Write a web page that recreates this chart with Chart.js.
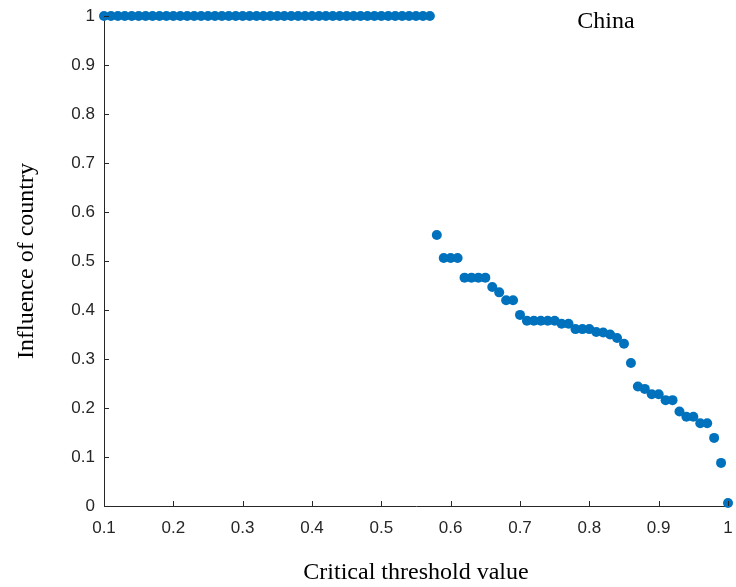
<!DOCTYPE html>
<html>
<head>
<meta charset="utf-8">
<script src="https://cdn.jsdelivr.net/npm/chart.js@4/dist/chart.umd.min.js"></script>
<style>
  html, body { margin: 0; padding: 0; background: #fff; }
  #wrap { width: 736px; height: 587px; }
</style>
</head>
<body>
<div id="wrap"><canvas id="myChart"></canvas></div>
<script>
// critical threshold values (x) and influence of the country (y)
const thresholds = [
    0.10, 0.11, 0.12, 0.13, 0.14, 0.15, 0.16, 0.17, 0.18, 0.19,
    0.20, 0.21, 0.22, 0.23, 0.24, 0.25, 0.26, 0.27, 0.28, 0.29,
    0.30, 0.31, 0.32, 0.33, 0.34, 0.35, 0.36, 0.37, 0.38, 0.39,
    0.40, 0.41, 0.42, 0.43, 0.44, 0.45, 0.46, 0.47, 0.48, 0.49,
    0.50, 0.51, 0.52, 0.53, 0.54, 0.55, 0.56, 0.57, 0.58, 0.59,
    0.60, 0.61, 0.62, 0.63, 0.64, 0.65, 0.66, 0.67, 0.68, 0.69,
    0.70, 0.71, 0.72, 0.73, 0.74, 0.75, 0.76, 0.77, 0.78, 0.79,
    0.80, 0.81, 0.82, 0.83, 0.84, 0.85, 0.86, 0.87, 0.88, 0.89,
    0.90, 0.91, 0.92, 0.93, 0.94, 0.95, 0.96, 0.97, 0.98, 0.99,
    1.00
];
const influence = [
    1, 1, 1, 1, 1, 1, 1, 1, 1, 1,
    1, 1, 1, 1, 1, 1, 1, 1, 1, 1,
    1, 1, 1, 1, 1, 1, 1, 1, 1, 1,
    1, 1, 1, 1, 1, 1, 1, 1, 1, 1,
    1, 1, 1, 1, 1, 1, 1, 1, 0.553, 0.506,
    0.506, 0.506, 0.466, 0.466, 0.466, 0.466, 0.447, 0.436, 0.420, 0.420,
    0.390, 0.378, 0.378, 0.378, 0.378, 0.378, 0.372, 0.372, 0.361, 0.361,
    0.361, 0.355, 0.354, 0.350, 0.343, 0.331, 0.292, 0.244, 0.239, 0.228,
    0.228, 0.216, 0.216, 0.193, 0.182, 0.182, 0.169, 0.169, 0.139, 0.088,
    0.006
];
const xTicks = [0.1, 0.2, 0.3, 0.4, 0.5, 0.6, 0.7, 0.8, 0.9, 1];
const yTicks = [0, 0.1, 0.2, 0.3, 0.4, 0.5, 0.6, 0.7, 0.8, 0.9, 1];
const countryName = 'China';

const points = thresholds.map((t, i) => ({ x: t, y: influence[i] }));
const axisColor = '#262626';

function fmt(v) {
    return String(Number(v.toFixed(2)));
}

// small tick marks pointing into the plot, plus the country label
const innerTicks = {
    id: 'innerTicks',
    afterDraw(chart) {
        const ctx = chart.ctx;
        const xs = chart.scales.x;
        const ys = chart.scales.y;
        ctx.save();
        ctx.strokeStyle = axisColor;
        ctx.lineWidth = 1;
        ctx.beginPath();
        xTicks.forEach(v => {
            const px = Math.round(xs.getPixelForValue(v)) + 0.5;
            ctx.moveTo(px, ys.bottom);
            ctx.lineTo(px, ys.bottom - 5);
        });
        yTicks.forEach(v => {
            const py = Math.round(ys.getPixelForValue(v)) + 0.5;
            ctx.moveTo(xs.left, py);
            ctx.lineTo(xs.left + 5, py);
        });
        ctx.stroke();

        ctx.fillStyle = '#000';
        ctx.font = '24px "Liberation Serif", "Times New Roman", serif';
        ctx.textAlign = 'center';
        ctx.textBaseline = 'middle';
        ctx.fillText(countryName, xs.getPixelForValue(0.824), ys.getPixelForValue(0.988));
        ctx.restore();
    }
};

const ctx = document.getElementById('myChart').getContext('2d');
new Chart(ctx, {
    type: 'scatter',
    data: {
        datasets: [{
            data: points,
            backgroundColor: '#0072BD',
            borderColor: '#0072BD',
            pointRadius: 5,
            pointHoverRadius: 5,
            borderWidth: 0,
            clip: false
        }]
    },
    options: {
        responsive: true,
        maintainAspectRatio: false,
        animation: false,
        layout: { padding: { top: 16, right: 8, left: 0, bottom: 0 } },
        plugins: {
            legend: { display: false },
            tooltip: { enabled: false }
        },
        scales: {
            x: {
                type: 'linear',
                min: 0.1,
                max: 1,
                afterBuildTicks(scale) {
                    scale.ticks = xTicks.map(v => ({ value: v }));
                },
                afterFit(scale) {
                    scale.height = 81;
                    scale.paddingLeft = 0;
                    scale.paddingRight = 0;
                },
                ticks: {
                    color: axisColor,
                    padding: 12,
                    font: { family: '"Liberation Sans", Arial, sans-serif', size: 17 },
                    callback: v => fmt(v)
                },
                grid: { drawOnChartArea: false, drawTicks: false },
                border: { color: axisColor, width: 1 },
                title: {
                    display: true,
                    text: 'Critical threshold value',
                    color: '#000',
                    padding: { top: 0, bottom: 0 },
                    font: { family: '"Liberation Serif", "Times New Roman", serif', size: 24 }
                }
            },
            y: {
                type: 'linear',
                min: 0,
                max: 1,
                afterBuildTicks(scale) {
                    scale.ticks = yTicks.map(v => ({ value: v }));
                },
                afterFit(scale) {
                    scale.width = 104;
                    scale.paddingTop = 0;
                    scale.paddingBottom = 0;
                },
                ticks: {
                    color: axisColor,
                    padding: 9,
                    font: { family: '"Liberation Sans", Arial, sans-serif', size: 17 },
                    callback: v => fmt(v)
                },
                grid: { drawOnChartArea: false, drawTicks: false },
                border: { color: axisColor, width: 1 },
                title: {
                    display: true,
                    text: 'Influence of country',
                    color: '#000',
                    padding: { top: 12, bottom: 0 },
                    font: { family: '"Liberation Serif", "Times New Roman", serif', size: 24 }
                }
            }
        }
    },
    plugins: [innerTicks]
});
</script>
</body>
</html>
